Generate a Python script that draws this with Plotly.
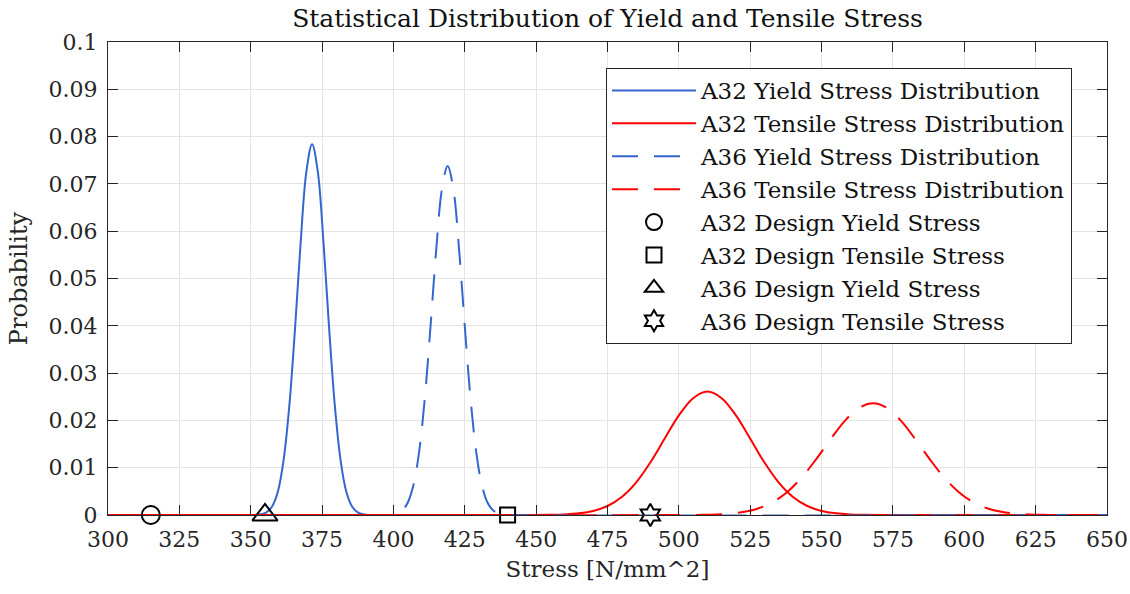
import plotly.graph_objects as go

# ---- data ----
a32_yield_x = [300, 351.5, 353.5, 355.5, 357.5, 359.5, 361.5, 363.5, 365.5, 367.5, 369.5, 371.5,
               373.5, 375.5, 377.5, 379.5, 381.5, 383.5, 385.5, 387.5, 389.5, 391.5, 650]
a32_yield_y = [0, 0, 0.00015, 0.00057, 0.0018, 0.0049, 0.0115, 0.0229, 0.0392, 0.0576, 0.0726, 0.0784,
               0.0726, 0.0576, 0.0392, 0.0229, 0.0115, 0.0049, 0.0018, 0.00057, 0.00015, 0, 0]

a32_tens_x = [300, 450, 455, 460, 465, 470, 475, 480, 485, 490, 495, 500, 505, 510,
              515, 520, 525, 530, 535, 540, 545, 550, 555, 560, 565, 570, 650]
a32_tens_y = [0, 0, 0.00004, 0.000125, 0.00035, 0.00085, 0.0019, 0.00381, 0.00686, 0.0111, 0.01612, 0.02105, 0.0247, 0.0261,
              0.0247, 0.02105, 0.01612, 0.0111, 0.00686, 0.00381, 0.0019, 0.00085, 0.00035, 0.000125, 0.00004, 0, 0]

a36_yield_x = [404, 405, 407, 409, 411, 413, 415, 417, 419, 421, 423, 425, 427, 429, 431, 433,
               435, 437, 439, 441, 650]
a36_yield_y = [0.00158, 0.00259, 0.0063, 0.01336, 0.0247, 0.0399, 0.0561, 0.0689, 0.0738, 0.0689, 0.0561, 0.0399,
               0.0247, 0.01336, 0.0063, 0.00259, 0.00093, 0.00029, 0.00008, 0, 0]

a36_tens_x = [300, 503, 508, 513, 518, 523, 528, 533, 538, 543, 548, 553, 558, 563, 568,
              573, 578, 583, 588, 593, 598, 603, 608, 613, 618, 623, 628, 633, 650]
a36_tens_y = [0, 0, 0.00004, 0.000118, 0.0003, 0.00068, 0.00143, 0.00276, 0.00488, 0.0079, 0.01172, 0.0159, 0.0198, 0.0226, 0.0236,
              0.0226, 0.0198, 0.0159, 0.01172, 0.0079, 0.00488, 0.00276, 0.00143, 0.00068, 0.0003, 0.000118, 0.00004, 0, 0]

design_names = ["A32 Design Yield Stress", "A32 Design Tensile Stress",
                "A36 Design Yield Stress", "A36 Design Tensile Stress"]
design_x = [315, 440, 355, 490]
design_y = [0, 0, 0, 0]

x_ticks = list(range(300, 651, 25))
y_ticks = [0, 0.01, 0.02, 0.03, 0.04, 0.05, 0.06, 0.07, 0.08, 0.09, 0.1]
y_tick_text = ["0", "0.01", "0.02", "0.03", "0.04", "0.05", "0.06", "0.07", "0.08", "0.09", "0.1"]

# ---- styles ----
BLUE = "#3566CE"
RED = "#FF0000"
FONT = "DejaVu Serif"
DASH = "26px,16px"
MARKER_STYLES = [("circle-open", 18), ("square-open", 15), ("triangle-up-open", 22), ("hexagram-open", 17)]

fig = go.Figure()
fig.add_trace(go.Scatter(x=a32_yield_x, y=a32_yield_y, mode="lines", line_shape="spline",
                         name="A32 Yield Stress Distribution", line=dict(color=BLUE, width=2)))
fig.add_trace(go.Scatter(x=a32_tens_x, y=a32_tens_y, mode="lines", line_shape="spline",
                         name="A32 Tensile Stress Distribution", line=dict(color=RED, width=2)))
fig.add_trace(go.Scatter(x=a36_yield_x, y=a36_yield_y, mode="lines", line_shape="spline",
                         name="A36 Yield Stress Distribution", line=dict(color=BLUE, width=2, dash=DASH)))
fig.add_trace(go.Scatter(x=a36_tens_x, y=a36_tens_y, mode="lines", line_shape="spline",
                         name="A36 Tensile Stress Distribution", line=dict(color=RED, width=2, dash=DASH)))
for n, xv, yv, (sym, sz) in zip(design_names, design_x, design_y, MARKER_STYLES):
    fig.add_trace(go.Scatter(x=[xv], y=[yv], mode="markers", name=n, cliponaxis=False,
                             marker=dict(symbol=sym, size=sz, color="black", line=dict(width=2, color="black"))))

axis_common = dict(showline=True, linecolor="#262626", linewidth=1.2, mirror="ticks",
                   ticks="inside", ticklen=10, tickcolor="#262626", tickwidth=1,
                   showgrid=True, gridcolor="#e3e3e3", gridwidth=1, zeroline=False, automargin=False,
                   tickfont=dict(family=FONT, size=22, color="#262626"))

fig.update_layout(
    width=1130, height=594,
    margin=dict(l=108, r=23, t=42, b=79),
    paper_bgcolor="white", plot_bgcolor="white",
    font=dict(family=FONT, color="#262626"),
    title=dict(text="Statistical Distribution of Yield and Tensile Stress", x=0.5, xref="paper", xanchor="center",
               y=0.97, yanchor="middle", font=dict(family=FONT, size=25, color="#111111")),
    xaxis=dict(range=[300, 650], tickvals=x_ticks, ticklabelstandoff=4,
               title=dict(text="Stress [N/mm^2]", font=dict(family=FONT, size=23, color="#262626"), standoff=10),
               **axis_common),
    yaxis=dict(range=[0, 0.1], tickvals=y_ticks, ticktext=y_tick_text, ticklabelstandoff=5,
               title=dict(text="Probability", font=dict(family=FONT, size=24, color="#262626"), standoff=14),
               **axis_common),
    legend=dict(x=0.4985, y=0.945, xanchor="left", yanchor="top", bgcolor="white",
                bordercolor="#262626", borderwidth=1, itemwidth=84,
                font=dict(family=FONT, size=23, color="#111111"), tracegroupgap=0),
    showlegend=True,
)

fig.write_html("out.html", config={"displayModeBar": False},
               post_script="document.body.style.margin='0px';document.body.style.overflow='hidden';")
